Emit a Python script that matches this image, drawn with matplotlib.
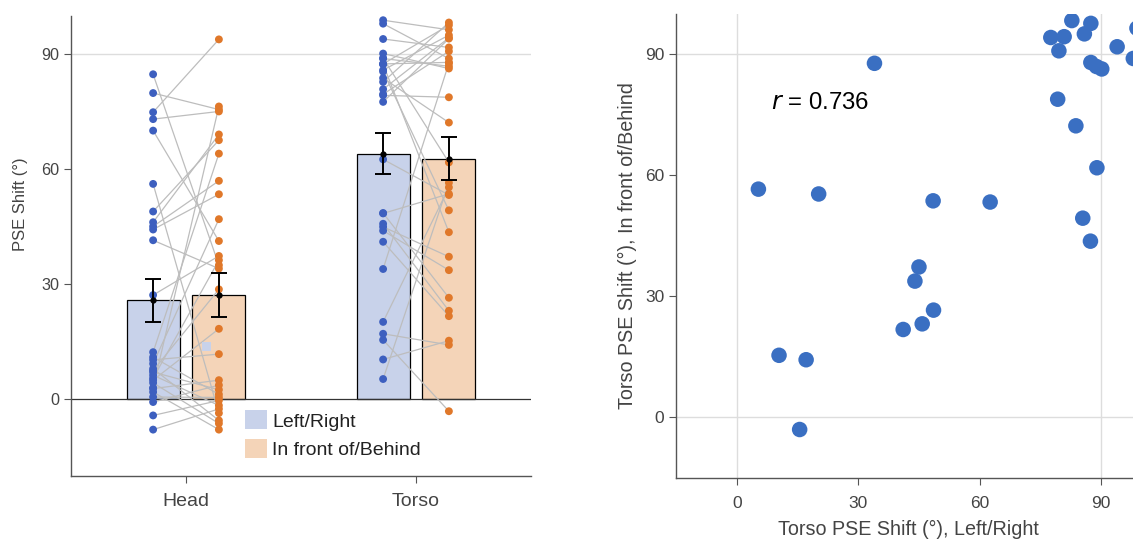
import matplotlib
matplotlib.use("Agg")
import matplotlib.pyplot as plt
from matplotlib.patches import Patch
import numpy as np

plt.rcParams['font.family'] = ['Liberation Sans', 'DejaVu Sans']

# ---------------- data ----------------
categories = ["Head", "Torso"]
conditions = ["Left/Right", "In front of/Behind"]

head_lr = [84.8, 79.9, 74.9, 73.1, 70.1, 56.2, 49.0, 46.2, 45.1, 44.3,
           41.5, 27.2, 12.3, 11.0, 10.3, 9.3, 8.0, 7.5, 7.1, 6.3,
           5.5, 5.0, 4.3, 3.0, 2.8, 1.9, 0.6, -0.7, -4.2, -7.9]
head_fb = [35.0, 75.6, 93.9, 75.1, 41.3, -3.6, 67.6, 69.1, 57.0, 53.5,
           34.1, 37.4, 64.1, 1.3, 11.8, 47.0, -5.5, 28.7, 2.5, -1.6,
           36.3, 18.4, -6.3, 76.4, 5.0, -7.9, 0.5, 3.7, -0.3, -2.5]

torso_lr = [82.8, 87.5, 98.9, 77.6, 80.9, 85.9, 79.6, 94.0, 98.0, 87.5,
            88.9, 90.2, 34.0, 79.3, 83.8, 89.0, 5.3, 20.2, 48.5, 62.6,
            85.5, 87.4, 45.0, 44.0, 48.6, 45.8, 41.1, 10.4, 17.1, 15.5]
torso_fb = [98.3, 97.6, 96.4, 94.1, 94.3, 95.0, 90.8, 91.8, 88.9, 87.9,
            86.9, 86.3, 87.7, 78.8, 72.2, 61.8, 56.5, 55.3, 53.6, 53.3,
            49.3, 43.6, 37.2, 33.7, 26.5, 23.1, 21.7, 15.3, 14.2, -3.1]

bar_means_lr = [25.8, 64.1]
bar_means_fb = [27.2, 62.8]
bar_sem_lr = [5.5, 5.35]
bar_sem_fb = [5.65, 5.65]

r_text = "0.736"

# ---------------- style ----------------
bar_blue = "#c8d2ea"
bar_orange = "#f4d4b8"
pt_blue = "#3d5fbf"
pt_orange = "#e0782a"
sc_blue = "#3a6fc2"
txt = "#444444"
spine_c = "#555555"

fig = plt.figure(figsize=(11.33, 5.39), dpi=100)

# ---------------- left panel ----------------
ax = fig.add_axes([71/1133, 1 - 476/539, 460/1133, 460/539])
xc = np.arange(len(categories))
off = 0.143
bw = 0.23

ax.bar(xc - off, bar_means_lr, width=bw, color=bar_blue, edgecolor="black",
       linewidth=0.9, zorder=2)
ax.bar(xc + off, bar_means_fb, width=bw, color=bar_orange, edgecolor="black",
       linewidth=0.9, zorder=2)

pairs = [(head_lr, head_fb), (torso_lr, torso_fb)]
for i, (lr, fb) in enumerate(pairs):
    for a, b in zip(lr, fb):
        ax.plot([i - off, i + off], [a, b], color="#bdbdbd", lw=0.9, zorder=3)
    ax.scatter(np.full(len(lr), i - off), lr, s=32, color=pt_blue, zorder=4,
               edgecolors="none")
    ax.scatter(np.full(len(fb), i + off), fb, s=32, color=pt_orange, zorder=4,
               edgecolors="none")

ax.errorbar(xc - off, bar_means_lr, yerr=bar_sem_lr, fmt="o", ms=3.5,
            color="black", ecolor="black", elinewidth=1.4, capsize=6,
            capthick=1.4, zorder=5)
ax.errorbar(xc + off, bar_means_fb, yerr=bar_sem_fb, fmt="o", ms=3.5,
            color="black", ecolor="black", elinewidth=1.4, capsize=6,
            capthick=1.4, zorder=5)

# small stray legend-like square seen in the reference
ax.scatter([0.09], [13.8], marker="s", s=45, color=bar_blue, zorder=4,
           edgecolors="none")

ax.axhline(90, color="#dddddd", lw=1, zorder=1)
ax.axhline(0, color="#333333", lw=0.9, zorder=2.5)

ax.set_xlim(-0.5, 1.5)
ax.set_ylim(-20, 100)
ax.set_xticks(xc)
ax.set_xticklabels(categories, fontsize=14, color=txt)
ax.set_yticks([0, 30, 60, 90])
ax.tick_params(axis="y", labelsize=11.7, colors=spine_c, labelcolor=txt,
               length=5, width=0.8, direction="out")
ax.tick_params(axis="x", length=5, width=0.8, colors=spine_c, labelcolor=txt,
               direction="out", pad=7)
ax.set_ylabel("PSE Shift (°)", fontsize=12, color=txt)
ax.yaxis.set_label_coords(-0.093, 0.59)
for s in ["top", "right"]:
    ax.spines[s].set_visible(False)
for s in ["left", "bottom"]:
    ax.spines[s].set_color(spine_c)
    ax.spines[s].set_linewidth(1.0)

handles = [Patch(facecolor=bar_blue, edgecolor="none"),
           Patch(facecolor=bar_orange, edgecolor="none")]
leg = ax.legend(handles, conditions, loc="upper left",
                bbox_to_anchor=(0.349, 0.172), frameon=False, fontsize=14,
                handlelength=1.12, handleheight=1.12, handletextpad=0.26,
                labelspacing=0.45, borderpad=0.2)
for t in leg.get_texts():
    t.set_color("#222222")

# ---------------- right panel ----------------
ax2 = fig.add_axes([676.3/1133, 1 - 477.5/539, 465.1/1133, 463.8/539])
ax2.scatter(torso_lr, torso_fb, s=125, color=sc_blue, edgecolors="none",
            zorder=3)
ax2.set_xlim(-15, 100)
ax2.set_ylim(-15, 100)
ax2.set_xticks([0, 30, 60, 90])
ax2.set_yticks([0, 30, 60, 90])
for v in [0, 90]:
    ax2.axvline(v, color="#dddddd", lw=1, zorder=1)
    ax2.axhline(v, color="#dddddd", lw=1, zorder=1)
ax2.tick_params(labelsize=12.5, colors=spine_c, labelcolor=txt, length=5,
                width=0.8, direction="out")
ax2.tick_params(axis="x", pad=8)
ax2.set_xlabel("Torso PSE Shift (°), Left/Right", fontsize=14.2, color=txt,
               labelpad=7)
ax2.set_ylabel("Torso PSE Shift (°), In front of/Behind", fontsize=14.2,
               color=txt, labelpad=6)
for s in ["top", "right"]:
    ax2.spines[s].set_visible(False)
for s in ["left", "bottom"]:
    ax2.spines[s].set_color(spine_c)
    ax2.spines[s].set_linewidth(1.0)
ax2.text(8.4, 77.9, r"$\it{r}$ = " + r_text, fontsize=17.3, color="black",
         va="center", ha="left")

fig.savefig("out.png", dpi=100)
